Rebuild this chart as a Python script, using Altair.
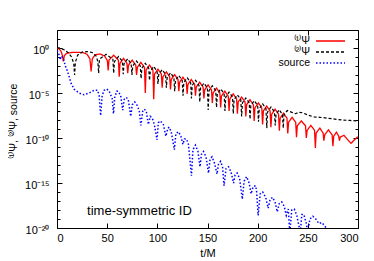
import altair as alt
import pandas as pd

# ---- data: (t/M, log10 value) ----
psi1 = [
    (0, -0.05), (2, -0.1), (4, -0.35), (5.3, -0.8), (6.3, -1.5), (7.3, -0.85), (9.5, -0.6), (14, -0.5),
    (20, -0.48), (26, -0.52), (30, -0.7), (32.8, -1.2), (34, -2.6), (35.2, -1.2), (38, -0.75), (43, -0.67),
    (47.5, -0.9), (50.2, -1.4), (51, -2.5),
    (51.8, -1.35), (56.5, -0.8), (61.2, -1.35), (62, -3.2),
    (62.8, -1.7), (66.3, -1.15), (69.7, -1.7), (70.5, -2.8),
    (71.3, -1.9), (74.9, -1.35), (78.5, -1.9), (79.3, -3.0),
    (80.1, -2.15), (83.6, -1.6), (87.2, -2.15), (88, -5.0),
    (88.8, -2.45), (92.2, -1.9), (95.6, -2.45), (96.4, -5.7),
    (97.2, -2.9), (100.6, -2.35), (104, -2.9), (104.8, -4.4),
    (105.6, -3.2), (109, -2.65), (112.3, -3.2), (113.1, -4.6),
    (113.9, -3.5), (117.2, -2.95), (120.6, -3.5), (121.4, -4.8),
    (122.2, -3.8), (125.5, -3.25), (128.9, -3.8), (129.7, -5.1),
    (130.5, -4.05), (133.8, -3.5), (137.2, -4.05), (138, -5.3),
    (138.8, -4.35), (142.2, -3.8), (145.6, -4.35), (146.4, -5.6),
    (147.2, -4.65), (150.6, -4.1), (154, -4.65), (154.8, -6.1),
    (155.6, -5.0), (159, -4.45), (162.3, -5.0), (163.1, -6.6),
    (163.9, -5.35), (167.3, -4.8), (170.7, -5.35), (171.5, -7.0),
    (172.3, -5.65), (175.6, -5.1), (179, -5.65), (179.8, -7.3),
    (180.6, -6.0), (184, -5.45), (187.4, -6.0), (188.2, -7.6),
    (189, -6.3), (192.3, -5.75), (195.7, -6.3), (196.5, -8.1),
    (197.3, -6.65), (200.7, -6.1), (204.1, -6.65), (204.9, -8.5),
    (205.7, -7.0), (209, -6.45), (212.4, -7.0), (213.2, -8.8),
    (214, -7.35), (217.4, -6.8), (220.8, -7.35), (221.6, -9.2),
    (222.4, -7.8), (225.8, -7.25), (229.2, -7.8), (230, -9.5),
    (230.8, -8.25), (234.3, -7.7), (237.9, -8.25), (238.7, -9.9),
    (239.5, -8.65), (243.5, -8.1), (247.7, -8.65), (248.5, -10.0),
    (249.3, -9.15), (253, -8.6), (256.7, -9.15), (257.5, -11.1),
    (258.3, -9.45), (262, -8.9), (265.2, -9.45), (266, -10.3),
    (266.8, -9.65), (270.5, -9.1), (274.2, -9.65), (275, -10.9),
    (275.8, -9.8), (278.5, -9.35), (280.8, -9.8), (281.5, -10.3),
    (282.3, -9.9), (286, -9.7), (289, -10.1), (293, -10.6), (296.5, -10.2), (300, -9.85),
]

psi2 = [
    (0, 0.05), (3, -0.02), (7, -0.2), (11, -0.5), (14.5, -1.0), (16.7, -1.7), (17.5, -3.0), (18.3, -1.6),
    (20.5, -0.8), (25, -0.45), (30, -0.4), (35, -0.5), (39, -0.9), (40.7, -1.5), (41.5, -2.8),
    (42.3, -1.25), (49, -0.7), (55.7, -1.25), (56.5, -2.8),
    (57.3, -1.5), (61.3, -0.95), (65.2, -1.5), (66, -2.9),
    (66.8, -1.75), (70.4, -1.2), (73.9, -1.75), (74.7, -3.0),
    (75.5, -2.0), (79.2, -1.45), (83, -2.0), (83.8, -3.4),
    (84.6, -2.25), (88, -1.7), (91.4, -2.25), (92.2, -3.6),
    (93, -2.6), (96.4, -2.05), (99.8, -2.6), (100.6, -4.0),
    (101.4, -2.95), (104.8, -2.4), (108.2, -2.95), (109, -4.4),
    (109.8, -3.3), (113.1, -2.75), (116.5, -3.3), (117.3, -4.8),
    (118.1, -3.6), (121.4, -3.05), (124.8, -3.6), (125.6, -5.3),
    (126.4, -3.85), (129.8, -3.3), (133.2, -3.85), (134, -5.6),
    (134.8, -4.15), (138.1, -3.6), (141.5, -4.15), (142.3, -6.0),
    (143.1, -4.45), (146.5, -3.9), (149.9, -4.45), (150.7, -6.9),
    (151.5, -4.75), (154.8, -4.2), (158.2, -4.75), (159, -6.6),
    (159.8, -5.1), (163.2, -4.55), (166.6, -5.1), (167.4, -7.0),
    (168.2, -5.45), (171.5, -4.9), (174.9, -5.45), (175.7, -7.3),
    (176.5, -5.75), (179.8, -5.2), (183.2, -5.75), (184, -7.6),
    (184.8, -6.1), (188.2, -5.55), (191.6, -6.1), (192.4, -7.9),
    (193.2, -6.4), (196.6, -5.85), (200, -6.4), (200.8, -8.2),
    (201.6, -6.75), (205, -6.2), (208.3, -6.75), (209.1, -8.9),
    (209.9, -7.1), (213.3, -6.55), (216.7, -7.1), (217.5, -8.6),
    (218.3, -7.4), (221.5, -6.85), (224.7, -7.4), (225.5, -8.9),
    (226.3, -7.4), (229.5, -6.95), (233, -7.1), (237.5, -7.3), (241, -7.15), (245, -7.2), (250, -7.45),
    (256, -7.65), (262, -7.7), (270, -7.8), (277, -7.9), (284, -8.0), (292, -8.05), (300, -8.1),
]

source = [
    (0, -0.3), (1.5, -0.5), (3, -1.3), (4.5, -0.9), (6.5, -1.2), (8, -1.9), (10.5, -2.6), (14, -3.9),
    (17.3, -4.6), (22, -5.0), (27, -5.2), (32, -5.0), (37, -4.7), (40.5, -4.7), (42, -5.3), (43.5, -7.5),
    (45, -5.3), (47, -4.7), (49.5, -4.55), (52, -4.8), (55, -5.6), (56.3, -7.3), (57.5, -5.5), (59.5, -4.8),
    (61, -4.8), (63.5, -5.3), (65.5, -6.9), (67, -5.7), (69, -5.5), (71, -5.7), (73.5, -7.6), (75, -6.3),
    (77.5, -6.0), (80, -6.4), (82, -7.0), (83.6, -8.6), (85.5, -7.0), (87, -6.8), (89, -7.0), (91, -8.5),
    (93, -7.6), (95, -7.8), (97, -8.5), (99.7, -10.2), (101, -8.3), (103, -8.1), (106, -8.5), (108.5, -9.8),
    (110.5, -8.9), (112, -8.8), (114, -9.4), (117, -11.3), (118.5, -9.5), (121, -9.3), (123.5, -9.8),
    (125.5, -10.7), (127, -10.1), (129, -10.1), (131, -10.7), (134, -14.2), (135.5, -11.3), (138, -10.8),
    (140.5, -11.5), (142.5, -13.2), (144, -11.8), (146, -11.5), (148.5, -12.1), (151, -13.9), (152.5, -12.4),
    (154.5, -12.1), (157, -12.8), (159.5, -14.0), (161, -12.9), (163, -12.6), (165, -13.2), (166.5, -15.3),
    (168.5, -13.4), (171, -13.2), (173.5, -13.8), (176, -15.0), (177.5, -14.1), (179.5, -13.9), (182, -14.5),
    (184.7, -16.8), (186.5, -14.8), (189, -14.3), (191.5, -15.0), (193.5, -16.2), (195.5, -15.4), (198, -15.3),
    (199, -16.0), (200.5, -18.6), (202.5, -16.2), (205, -16.0), (208, -16.6), (210.5, -17.8), (212.5, -16.8),
    (215, -16.6), (217.5, -17.2), (219.5, -18.2), (221.5, -17.3), (224, -17.1), (226.5, -17.6), (228.5, -18.6),
    (230.5, -17.9), (232, -20.5), (234, -18.0), (236.5, -17.9), (239, -18.6), (242.5, -20.5), (244, -18.5),
    (246, -18.5), (248.5, -19.5), (250, -20.5), (252, -19.0), (255, -18.7), (258, -19.0), (261, -19.5),
    (264, -19.4), (267, -19.8), (270, -20.2),
]

series_names = ["⁽¹⁾Ψ", "⁽²⁾Ψ", "source"]
series_keys = ["k1", "k2", "k3"]
series_colors = ["#ff0000", "#000000", "#0000ff"]
series_dash = [[1, 0], [3, 2], [1.5, 2]]

x_ticks = [0, 50, 100, 150, 200, 250, 300]
y_major = [-20, -15, -10, -5, 0]
y_major_text = ["10⁻²⁰", "10⁻¹⁵", "10⁻¹⁰", "10⁻⁵", "10⁰"]
y_minor = list(range(-20, 3))

note_t = [30]
note_v = [-18.55]
note_text = ["time-symmetric ID"]

frames = []
for name, key, pts in zip(series_names, series_keys, [psi1, psi2, source]):
    frames.append(pd.DataFrame({"t": [p[0] for p in pts], "v": [p[1] for p in pts],
                                "series": name, "key": key}))
data = pd.concat(frames, ignore_index=True)
note_df = pd.DataFrame({"t": note_t, "v": note_v, "label": note_text})

FONT = "Liberation Sans"
xscale = alt.Scale(domain=[0, 300], nice=False, zero=False)
yscale = alt.Scale(domain=[-20, 2], nice=False, zero=False)

label_expr = " : ".join(f"datum.value == {v} ? '{s}'" for v, s in zip(y_major, y_major_text)) + " : ''"
key_expr = " : ".join(f"datum.value == '{k}' ? '{s}'" for k, s in zip(series_keys, series_names)) + " : ''"


def symbol_legend():
    # line samples only (labels are drawn by the second legend, to their left)
    return alt.Legend(title=None, orient="none", legendX=258, legendY=5.5,
                      symbolType="stroke", symbolSize=841, symbolStrokeWidth=1.4, symbolOffset=0,
                      labelExpr="''", labelFontSize=10.5, labelFont=FONT,
                      clipHeight=11, rowPadding=0, padding=0)


color = alt.Color("series:N", scale=alt.Scale(domain=series_names, range=series_colors), legend=symbol_legend())
dash = alt.StrokeDash("series:N", scale=alt.Scale(domain=series_names, range=series_dash), legend=symbol_legend())
label_shape = alt.Shape("key:N", scale=alt.Scale(domain=series_keys),
                        legend=alt.Legend(title=None, orient="none", legendX=242.5, legendY=5.5,
                                          symbolOpacity=0, symbolSize=4, symbolStrokeWidth=0,
                                          symbolOffset=0, labelOffset=0, labelAlign="right",
                                          labelExpr=key_expr, labelFontSize=10.5, labelFont=FONT,
                                          labelColor="black", clipHeight=11, rowPadding=0, padding=0))


def tick_axis(orient, values, size):
    return alt.Axis(orient=orient, values=values, tickSize=size, offset=-size, labels=False,
                    domain=False, grid=False, title=None, tickColor="black", tickWidth=1)


base = alt.Chart(data)

red = base.transform_filter(alt.datum.series == series_names[0]).mark_line(strokeWidth=1.3, clip=True).encode(
    x=alt.X("t:Q", scale=xscale,
            axis=alt.Axis(orient="bottom", values=x_ticks, ticks=False, tickSize=0, domain=False, grid=False,
                          labelPadding=4, labelFontSize=11, labelFont=FONT, labelColor="black",
                          title="t/M", titleFont=FONT, titleFontSize=11, titleFontWeight="normal",
                          titleY=28.5, titleBaseline="alphabetic", titleColor="black")),
    y=alt.Y("v:Q", scale=yscale,
            axis=alt.Axis(orient="left", values=y_major, ticks=False, tickSize=0, domain=False, grid=False,
                          labelExpr=label_expr, labelPadding=8, labelFontSize=11, labelFont=FONT,
                          labelColor="black", labelBaseline="middle", labelOffset=2,
                          title="⁽¹⁾Ψ, ⁽²⁾Ψ, source", titleFont=FONT, titleFontSize=10.5,
                          titleFontWeight="normal", titleX=-41, titleY=91, titleAngle=270,
                          titleAlign="center", titleBaseline="alphabetic", titleColor="black")),
    color=color, strokeDash=dash,
)

black = base.transform_filter(alt.datum.series == series_names[1]).mark_line(strokeWidth=1.2, clip=True).encode(
    x=alt.X("t:Q", scale=xscale, axis=tick_axis("bottom", x_ticks, 5)),
    y=alt.Y("v:Q", scale=yscale, axis=tick_axis("left", y_major, 5)),
    color=color, strokeDash=dash,
)

blue = base.transform_filter(alt.datum.series == series_names[2]).mark_line(strokeWidth=1.5, clip=True).encode(
    x=alt.X("t:Q", scale=xscale, axis=tick_axis("top", x_ticks, 5)),
    y=alt.Y("v:Q", scale=yscale, axis=tick_axis("left", y_minor, 3)),
    color=color, strokeDash=dash,
)

note = alt.Chart(note_df).mark_text(align="left", baseline="alphabetic", font=FONT, fontSize=13,
                                    color="black").encode(
    x=alt.X("t:Q", scale=xscale, axis=None),
    y=alt.Y("v:Q", scale=yscale, axis=tick_axis("right", y_major, 5)),
    text="label:N",
)

ghost = base.mark_point(opacity=0, size=1).encode(
    x=alt.X("t:Q", scale=xscale, axis=None),
    y=alt.Y("v:Q", scale=yscale, axis=tick_axis("right", y_minor, 3)),
    shape=label_shape,
)

chart = alt.layer(red, black, blue, note, ghost).resolve_axis(x="independent", y="independent").properties(
    width=301, height=198,
    autosize=alt.AutoSizeParams(type="none"),
    padding={"left": 49, "top": 22, "right": 8, "bottom": 32},
    background="white",
).configure_view(stroke="black", strokeWidth=1)

chart.save("out.html", embed_options={"renderer": "svg", "actions": False})
